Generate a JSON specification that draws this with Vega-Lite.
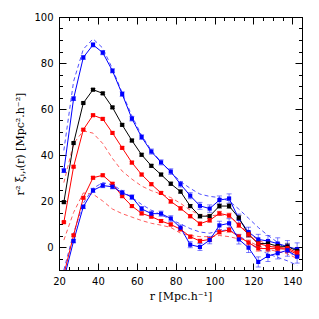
{
  "$schema": "https://vega.github.io/schema/vega-lite/v6.json",
  "width": 243,
  "height": 253,
  "autosize": {"type": "none"},
  "padding": {"left": 59, "top": 17, "right": 17, "bottom": 49},
  "background": "white",
  "config": {
    "view": {"stroke": "black", "strokeWidth": 1},
    "axis": {
      "domainColor": "black", "domainWidth": 1, "tickColor": "black", "tickWidth": 1,
      "labelFont": "DejaVu Sans", "labelFontSize": 10, "labelColor": "black",
      "titleFont": "DejaVu Serif", "titleFontSize": 11, "titleFontWeight": "normal", "titleColor": "black",
      "grid": false, "labelFlush": false, "labelOverlap": false
    }
  },
  "datasets": {
    "obs": [
      {"s":"B1","r":22.5,"v":33.2,"e":0.8},{"s":"B1","r":27.5,"v":64.5,"e":0.8},{"s":"B1","r":32.5,"v":82.4,"e":0.8},{"s":"B1","r":37.5,"v":87.9,"e":0.9},{"s":"B1","r":42.5,"v":84.5,"e":0.9},{"s":"B1","r":47.5,"v":76.6,"e":0.9},{"s":"B1","r":52.5,"v":66.5,"e":1.0},{"s":"B1","r":57.5,"v":55.8,"e":1.0},{"s":"B1","r":62.5,"v":47.8,"e":1.0},{"s":"B1","r":67.5,"v":41.5,"e":1.1},{"s":"B1","r":72.5,"v":36.8,"e":1.1},{"s":"B1","r":77.5,"v":32.8,"e":1.2},{"s":"B1","r":82.5,"v":27.3,"e":1.2},{"s":"B1","r":87.5,"v":22.3,"e":1.3},{"s":"B1","r":92.5,"v":17.9,"e":1.5},{"s":"B1","r":97.5,"v":16.7,"e":1.6},{"s":"B1","r":102.5,"v":20.4,"e":1.8},{"s":"B1","r":107.5,"v":21.1,"e":2.0},{"s":"B1","r":112.5,"v":12.3,"e":2.0},{"s":"B1","r":117.5,"v":6.5,"e":2.1},{"s":"B1","r":122.5,"v":3.3,"e":2.2},{"s":"B1","r":127.5,"v":2.6,"e":2.4},{"s":"B1","r":132.5,"v":1.5,"e":2.5},{"s":"B1","r":137.5,"v":0.2,"e":2.6},{"s":"B1","r":142.5,"v":-1.0,"e":2.8},
      {"s":"K","r":22.5,"v":19.5,"e":0.4},{"s":"K","r":27.5,"v":45.2,"e":0.4},{"s":"K","r":32.5,"v":62.6,"e":0.4},{"s":"K","r":37.5,"v":68.4,"e":0.5},{"s":"K","r":42.5,"v":66.8,"e":0.5},{"s":"K","r":47.5,"v":60.7,"e":0.5},{"s":"K","r":52.5,"v":53.1,"e":0.5},{"s":"K","r":57.5,"v":46.3,"e":0.6},{"s":"K","r":62.5,"v":40.1,"e":0.6},{"s":"K","r":67.5,"v":35.3,"e":0.6},{"s":"K","r":72.5,"v":31.5,"e":0.6},{"s":"K","r":77.5,"v":27.5,"e":0.7},{"s":"K","r":82.5,"v":24.1,"e":0.7},{"s":"K","r":87.5,"v":17.8,"e":0.7},{"s":"K","r":92.5,"v":13.4,"e":0.8},{"s":"K","r":97.5,"v":13.4,"e":0.8},{"s":"K","r":102.5,"v":17.8,"e":0.9},{"s":"K","r":107.5,"v":17.8,"e":1.0},{"s":"K","r":112.5,"v":12.7,"e":1.0},{"s":"K","r":117.5,"v":5.5,"e":1.1},{"s":"K","r":122.5,"v":1.5,"e":1.2},{"s":"K","r":127.5,"v":1.5,"e":1.3},{"s":"K","r":132.5,"v":0.4,"e":1.3},{"s":"K","r":137.5,"v":0.2,"e":1.4},{"s":"K","r":142.5,"v":-1.7,"e":1.5},
      {"s":"R1","r":22.5,"v":10.8,"e":0.4},{"s":"R1","r":27.5,"v":34.9,"e":0.4},{"s":"R1","r":32.5,"v":51.0,"e":0.4},{"s":"R1","r":37.5,"v":57.3,"e":0.5},{"s":"R1","r":42.5,"v":55.7,"e":0.5},{"s":"R1","r":47.5,"v":49.6,"e":0.5},{"s":"R1","r":52.5,"v":43.1,"e":0.5},{"s":"R1","r":57.5,"v":36.7,"e":0.6},{"s":"R1","r":62.5,"v":31.5,"e":0.6},{"s":"R1","r":67.5,"v":27.3,"e":0.6},{"s":"R1","r":72.5,"v":23.5,"e":0.6},{"s":"R1","r":77.5,"v":19.8,"e":0.7},{"s":"R1","r":82.5,"v":16.8,"e":0.7},{"s":"R1","r":87.5,"v":13.4,"e":0.7},{"s":"R1","r":92.5,"v":10.1,"e":0.8},{"s":"R1","r":97.5,"v":11.6,"e":0.8},{"s":"R1","r":102.5,"v":14.6,"e":0.9},{"s":"R1","r":107.5,"v":13.7,"e":1.0},{"s":"R1","r":112.5,"v":9.5,"e":1.0},{"s":"R1","r":117.5,"v":5.5,"e":1.1},{"s":"R1","r":122.5,"v":1.5,"e":1.2},{"s":"R1","r":127.5,"v":0.4,"e":1.3},{"s":"R1","r":132.5,"v":-0.3,"e":1.3},{"s":"R1","r":137.5,"v":-0.5,"e":1.4},{"s":"R1","r":142.5,"v":-2.4,"e":1.5},
      {"s":"R2","r":22.5,"v":-12.0,"e":0.4},{"s":"R2","r":27.5,"v":5.1,"e":0.4},{"s":"R2","r":32.5,"v":21.4,"e":0.4},{"s":"R2","r":37.5,"v":30.1,"e":0.5},{"s":"R2","r":42.5,"v":31.2,"e":0.5},{"s":"R2","r":47.5,"v":27.5,"e":0.5},{"s":"R2","r":52.5,"v":22.1,"e":0.5},{"s":"R2","r":57.5,"v":17.8,"e":0.6},{"s":"R2","r":62.5,"v":14.6,"e":0.6},{"s":"R2","r":67.5,"v":13.2,"e":0.6},{"s":"R2","r":72.5,"v":11.3,"e":0.6},{"s":"R2","r":77.5,"v":9.8,"e":0.7},{"s":"R2","r":82.5,"v":7.7,"e":0.7},{"s":"R2","r":87.5,"v":4.5,"e":0.7},{"s":"R2","r":92.5,"v":2.6,"e":0.8},{"s":"R2","r":97.5,"v":3.3,"e":0.8},{"s":"R2","r":102.5,"v":6.5,"e":0.9},{"s":"R2","r":107.5,"v":7.4,"e":1.0},{"s":"R2","r":112.5,"v":4.5,"e":1.0},{"s":"R2","r":117.5,"v":1.9,"e":1.1},{"s":"R2","r":122.5,"v":-0.6,"e":1.2},{"s":"R2","r":127.5,"v":-0.7,"e":1.3},{"s":"R2","r":132.5,"v":-0.7,"e":1.3},{"s":"R2","r":137.5,"v":-1.0,"e":1.4},{"s":"R2","r":142.5,"v":-3.2,"e":1.5},
      {"s":"B2","r":22.5,"v":-14.0,"e":0.8},{"s":"B2","r":27.5,"v":2.6,"e":0.8},{"s":"B2","r":32.5,"v":17.5,"e":0.8},{"s":"B2","r":37.5,"v":24.6,"e":0.9},{"s":"B2","r":42.5,"v":26.7,"e":0.9},{"s":"B2","r":47.5,"v":26.2,"e":0.9},{"s":"B2","r":52.5,"v":23.6,"e":1.0},{"s":"B2","r":57.5,"v":21.7,"e":1.0},{"s":"B2","r":62.5,"v":16.6,"e":1.0},{"s":"B2","r":67.5,"v":14.5,"e":1.1},{"s":"B2","r":72.5,"v":14.5,"e":1.1},{"s":"B2","r":77.5,"v":12.4,"e":1.2},{"s":"B2","r":82.5,"v":8.4,"e":1.2},{"s":"B2","r":87.5,"v":1.0,"e":1.3},{"s":"B2","r":92.5,"v":0.0,"e":1.5},{"s":"B2","r":97.5,"v":3.0,"e":1.6},{"s":"B2","r":102.5,"v":9.4,"e":1.8},{"s":"B2","r":107.5,"v":10.3,"e":2.0},{"s":"B2","r":112.5,"v":3.3,"e":2.0},{"s":"B2","r":117.5,"v":-0.3,"e":2.1},{"s":"B2","r":122.5,"v":-6.5,"e":2.2},{"s":"B2","r":127.5,"v":-3.9,"e":2.4},{"s":"B2","r":132.5,"v":-2.7,"e":2.5},{"s":"B2","r":137.5,"v":-1.4,"e":2.6},{"s":"B2","r":142.5,"v":-4.2,"e":2.8}
    ],
    "model": [
      {"s":"B1m","r":22.5,"v":42},{"s":"B1m","r":27.5,"v":72},{"s":"B1m","r":32.5,"v":86},{"s":"B1m","r":37.5,"v":90.5},{"s":"B1m","r":42.5,"v":86.5},{"s":"B1m","r":47.5,"v":77.5},{"s":"B1m","r":52.5,"v":67},{"s":"B1m","r":57.5,"v":57},{"s":"B1m","r":62.5,"v":48.5},{"s":"B1m","r":67.5,"v":42},{"s":"B1m","r":72.5,"v":37},{"s":"B1m","r":77.5,"v":32.5},{"s":"B1m","r":82.5,"v":28.5},{"s":"B1m","r":87.5,"v":25.5},{"s":"B1m","r":92.5,"v":23},{"s":"B1m","r":97.5,"v":22},{"s":"B1m","r":102.5,"v":21.5},{"s":"B1m","r":107.5,"v":20},{"s":"B1m","r":112.5,"v":16.5},{"s":"B1m","r":117.5,"v":12.5},{"s":"B1m","r":122.5,"v":8.5},{"s":"B1m","r":127.5,"v":5},{"s":"B1m","r":132.5,"v":2},{"s":"B1m","r":137.5,"v":-1.5},{"s":"B1m","r":142.5,"v":-5},
      {"s":"R1m","r":22.5,"v":28},{"s":"R1m","r":27.5,"v":45},{"s":"R1m","r":32.5,"v":50.5},{"s":"R1m","r":37.5,"v":49.5},{"s":"R1m","r":42.5,"v":45},{"s":"R1m","r":47.5,"v":38.5},{"s":"R1m","r":52.5,"v":33},{"s":"R1m","r":57.5,"v":29.5},{"s":"R1m","r":62.5,"v":26.5},{"s":"R1m","r":67.5,"v":24.5},{"s":"R1m","r":72.5,"v":23},{"s":"R1m","r":77.5,"v":21.5},{"s":"R1m","r":82.5,"v":19},{"s":"R1m","r":87.5,"v":16},{"s":"R1m","r":92.5,"v":14},{"s":"R1m","r":97.5,"v":13.5},{"s":"R1m","r":102.5,"v":14},{"s":"R1m","r":107.5,"v":13.5},{"s":"R1m","r":112.5,"v":10},{"s":"R1m","r":117.5,"v":6},{"s":"R1m","r":122.5,"v":3},{"s":"R1m","r":127.5,"v":1},{"s":"R1m","r":132.5,"v":0},{"s":"R1m","r":137.5,"v":-1},{"s":"R1m","r":142.5,"v":-3},
      {"s":"R2m","r":22.5,"v":3},{"s":"R2m","r":27.5,"v":15},{"s":"R2m","r":32.5,"v":23.5},{"s":"R2m","r":37.5,"v":23},{"s":"R2m","r":42.5,"v":20},{"s":"R2m","r":47.5,"v":16.5},{"s":"R2m","r":52.5,"v":14.5},{"s":"R2m","r":57.5,"v":13},{"s":"R2m","r":62.5,"v":11.5},{"s":"R2m","r":67.5,"v":10.3},{"s":"R2m","r":72.5,"v":9.5},{"s":"R2m","r":77.5,"v":8.5},{"s":"R2m","r":82.5,"v":6},{"s":"R2m","r":87.5,"v":5},{"s":"R2m","r":92.5,"v":4.5},{"s":"R2m","r":97.5,"v":4.5},{"s":"R2m","r":102.5,"v":5},{"s":"R2m","r":107.5,"v":4.5},{"s":"R2m","r":112.5,"v":3.5},{"s":"R2m","r":117.5,"v":2.5},{"s":"R2m","r":122.5,"v":0.5},{"s":"R2m","r":127.5,"v":-1},{"s":"R2m","r":132.5,"v":-2},{"s":"R2m","r":137.5,"v":-3},{"s":"R2m","r":142.5,"v":-5},
      {"s":"B2m","r":22.5,"v":-10},{"s":"B2m","r":27.5,"v":6},{"s":"B2m","r":32.5,"v":19},{"s":"B2m","r":37.5,"v":25.5},{"s":"B2m","r":42.5,"v":28},{"s":"B2m","r":47.5,"v":27},{"s":"B2m","r":52.5,"v":24.5},{"s":"B2m","r":57.5,"v":21.5},{"s":"B2m","r":62.5,"v":18.5},{"s":"B2m","r":67.5,"v":16},{"s":"B2m","r":72.5,"v":14},{"s":"B2m","r":77.5,"v":12},{"s":"B2m","r":82.5,"v":10},{"s":"B2m","r":87.5,"v":8},{"s":"B2m","r":92.5,"v":6.5},{"s":"B2m","r":97.5,"v":6},{"s":"B2m","r":102.5,"v":7},{"s":"B2m","r":107.5,"v":7.5},{"s":"B2m","r":112.5,"v":5},{"s":"B2m","r":117.5,"v":2},{"s":"B2m","r":122.5,"v":-1},{"s":"B2m","r":127.5,"v":-3},{"s":"B2m","r":132.5,"v":-4.5},{"s":"B2m","r":137.5,"v":-6},{"s":"B2m","r":142.5,"v":-8}
    ]
  },
  "layer": [
    {
      "data": {"name": "model"},
      "mark": {"type": "line", "strokeDash": [4, 3], "strokeWidth": 0.9, "clip": true},
      "encoding": {
        "x": {"field": "r", "type": "quantitative", "scale": {"domain": [20, 145], "nice": false, "zero": false},
              "axis": {"orient": "bottom", "values": [20, 40, 60, 80, 100, 120, 140], "tickSize": -7, "labelPadding": 13, "title": "r [Mpc.h⁻¹]", "titlePadding": 4}},
        "y": {"field": "v", "type": "quantitative", "scale": {"domain": [-10, 100], "nice": false, "zero": false},
              "axis": {"orient": "left", "values": [0, 20, 40, 60, 80, 100], "tickSize": -7, "labelPadding": 13, "title": "r² ξᵢ,ᵢ(r) [Mpc².h⁻²]", "titlePadding": 8}},
        "color": {"field": "s", "type": "nominal", "legend": null,
                  "scale": {"domain": ["B1","K","R1","R2","B2","B1m","R1m","R2m","B2m"], "range": ["#0000ff","#000000","#ff0000","#ff0000","#0000ff","#3a3aff","#ff4a4a","#ff4a4a","#3a3aff"]}}
      }
    },
    {
      "data": {"name": "obs"},
      "mark": {"type": "errorbar", "ticks": {"size": 5}, "clip": true, "opacity": 0.5},
      "encoding": {
        "x": {"field": "r", "type": "quantitative",
              "axis": {"orient": "bottom", "values": [25,30,35,45,50,55,65,70,75,85,90,95,105,110,115,125,130,135,145], "tickSize": -3.5, "labels": false, "title": null, "domain": false}},
        "y": {"field": "v", "type": "quantitative",
              "axis": {"orient": "left", "values": [-10,-5,5,10,15,25,30,35,45,50,55,65,70,75,85,90,95], "tickSize": -3.5, "labels": false, "title": null, "domain": false}},
        "yError": {"field": "e"},
        "color": {"field": "s", "type": "nominal", "legend": null}
      }
    },
    {
      "data": {"name": "obs"},
      "mark": {"type": "line", "strokeWidth": 1, "clip": true},
      "encoding": {
        "x": {"field": "r", "type": "quantitative",
              "axis": {"orient": "top", "values": [20, 40, 60, 80, 100, 120, 140], "tickSize": -7, "labels": false, "title": null}},
        "y": {"field": "v", "type": "quantitative",
              "axis": {"orient": "right", "values": [0, 20, 40, 60, 80, 100], "tickSize": -7, "labels": false, "title": null}},
        "color": {"field": "s", "type": "nominal", "legend": null}
      }
    },
    {
      "data": {"name": "obs"},
      "mark": {"type": "point", "shape": "square", "filled": true, "size": 17, "opacity": 1, "clip": true},
      "encoding": {
        "x": {"field": "r", "type": "quantitative",
              "axis": {"orient": "top", "values": [25,30,35,45,50,55,65,70,75,85,90,95,105,110,115,125,130,135,145], "tickSize": -3.5, "labels": false, "title": null, "domain": false}},
        "y": {"field": "v", "type": "quantitative",
              "axis": {"orient": "right", "values": [-10,-5,5,10,15,25,30,35,45,50,55,65,70,75,85,90,95], "tickSize": -3.5, "labels": false, "title": null, "domain": false}},
        "color": {"field": "s", "type": "nominal", "legend": null}
      }
    }
  ],
  "resolve": {"axis": {"x": "independent", "y": "independent"}}
}
